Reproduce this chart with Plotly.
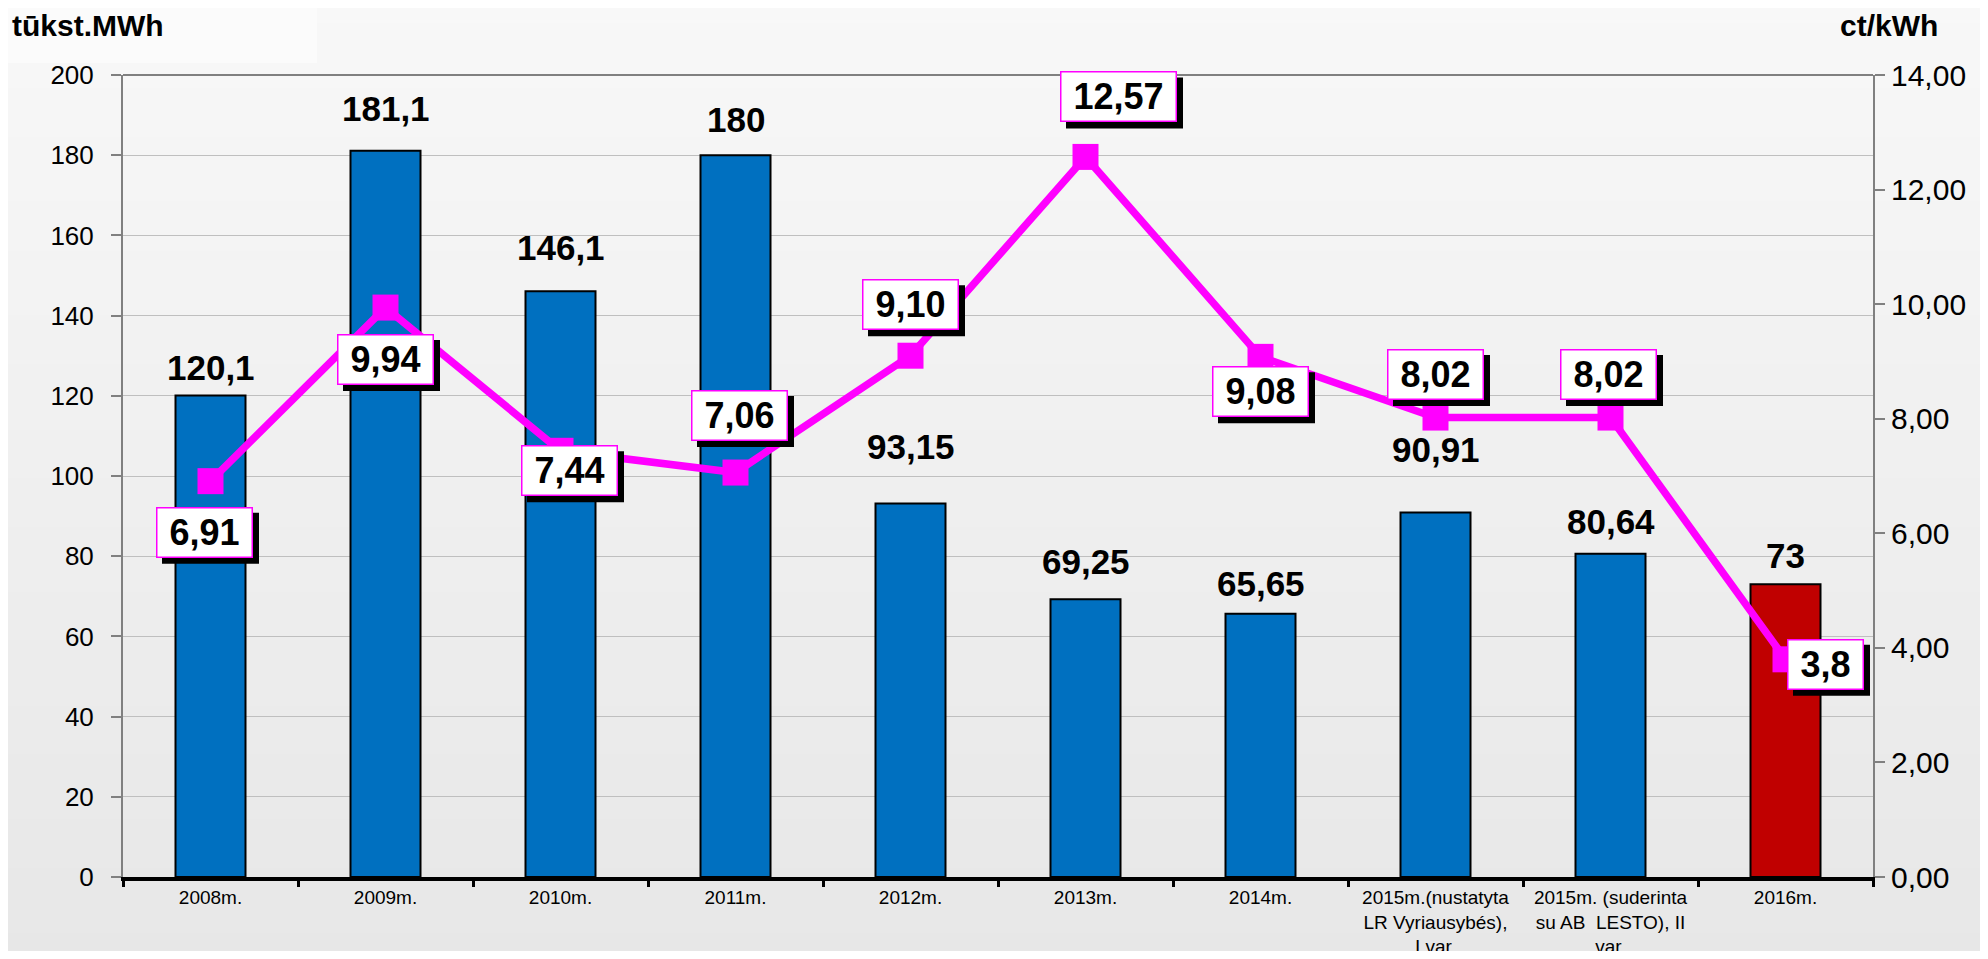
import plotly.graph_objects as go

# ---------------- data ----------------
categories = ["2008m.", "2009m.", "2010m.", "2011m.", "2012m.", "2013m.", "2014m.",
              "2015m.(nustatyta<br>LR Vyriausybés),<br>I var.",
              "2015m. (suderinta<br>su AB  LESTO), II<br>var.",
              "2016m."]
energy = [120.1, 181.1, 146.1, 180, 93.15, 69.25, 65.65, 90.91, 80.64, 73]
energy_labels = ["120,1", "181,1", "146,1", "180", "93,15", "69,25", "65,65", "90,91", "80,64", "73"]
price = [6.91, 9.94, 7.44, 7.06, 9.10, 12.57, 9.08, 8.02, 8.02, 3.8]
price_labels = ["6,91", "9,94", "7,44", "7,06", "9,10", "12,57", "9,08", "8,02", "8,02", "3,8"]
left_ticks = [0, 20, 40, 60, 80, 100, 120, 140, 160, 180, 200]
right_ticks = [0, 2, 4, 6, 8, 10, 12, 14]
right_tick_labels = ["0,00", "2,00", "4,00", "6,00", "8,00", "10,00", "12,00", "14,00"]
left_title = "tūkst.MWh"
right_title = "ct/kWh"

# ---------------- style ----------------
FONT = "Arial, Liberation Sans, sans-serif"
bar_colors = ["#0070C0"] * 9 + ["#C00000"]
MAGENTA = "#FF00FF"
OFF = 8                      # default page body margin
W, H = 1988 - 2 * OFF, 959 - 2 * OFF
# target plot area in page pixels: x 123..1873, y 75..877
ML = 123 - OFF
MT = 75 - OFF
MR = W - (1873 - OFF)
MB = H - (877 - OFF)
PW, PH = W - ML - MR, H - MT - MB

# label offsets (pixels) : bar labels above bars, price labels around points
bar_label_shift = [28, 42, 44, 36, 57, 38, 30, 63, 32, 29]
price_label_dx = [-6, 0, 9, 4, 0, 33, 0, 0, -2, 40]
price_label_dy = [51, 52, 20, -57, -51, -60, 35, -43, -43, 5]
SHADOW = 6
BOX_H = 44
BOX_PAD = 2
BOX_BW = 1.5

fig = go.Figure()

fig.add_trace(go.Bar(
    x=categories, y=energy, yaxis="y",
    marker=dict(color=bar_colors, line=dict(color="black", width=2)),
    width=0.4, hoverinfo="skip", showlegend=False,
))
fig.add_trace(go.Scatter(
    x=categories, y=price, yaxis="y2", mode="lines+markers",
    line=dict(color=MAGENTA, width=7.5),
    marker=dict(symbol="square", size=26, color=MAGENTA),
    hoverinfo="skip", showlegend=False,
))

# background gradient (paper), drawn as stripes
shapes = []
N = 60
x0p = -ML / PW - 0.02
x1p = 1 + MR / PW + 0.02
ybot = -MB / PH - 0.02
ytop = 1 + MT / PH + 0.02
for i in range(N):
    t = i / (N - 1)
    c0 = (248, 248, 248)
    c1 = (231, 231, 231)
    c = tuple(int(round(a + (b - a) * t)) for a, b in zip(c0, c1))
    ya = ytop - (ytop - ybot) * i / N
    yb = ytop - (ytop - ybot) * (i + 1) / N
    shapes.append(dict(type="rect", xref="paper", yref="paper", x0=x0p, x1=x1p,
                       y0=yb - 0.002, y1=ya + 0.002, fillcolor="rgb(%d,%d,%d)" % c,
                       line=dict(width=0), layer="below"))


def px_to_paper(px, py):
    """page pixel -> paper coords"""
    fx, fy = px - OFF, py - OFF
    return (fx - ML) / PW, (H - MB - fy) / PH


# lighter box behind left title
bx0, by0 = px_to_paper(0, 63)
bx1, by1 = px_to_paper(317, -10)
shapes.append(dict(type="rect", xref="paper", yref="paper",
                   x0=bx0 - 0.02, x1=bx1, y0=by0, y1=by1,
                   fillcolor="#fbfbfb", line=dict(width=0), layer="below"))
# top border of plot area
shapes.append(dict(type="line", xref="paper", yref="paper", x0=0, x1=1, y0=1, y1=1,
                   line=dict(color="#808080", width=2), layer="above"))

annotations = []
# bar value labels
for c, v, lab, s in zip(categories, energy, energy_labels, bar_label_shift):
    annotations.append(dict(x=c, y=v, xref="x", yref="y", text=lab, showarrow=False,
                            yanchor="middle", xanchor="center", yshift=s,
                            font=dict(family=FONT, size=35, color="black", weight="bold")))


# price labels with shadow boxes
def text_w(s, size):
    w = 0
    for ch in s:
        w += 0.278 if ch in ",." else 0.556
    return w * size


for c, v, lab, dx, dy in zip(categories, price, price_labels, price_label_dx, price_label_dy):
    bw = round(text_w(lab, 36) + 20)
    ow = bw + 2 * (BOX_PAD + BOX_BW)
    oh = BOX_H + 2 * (BOX_PAD + BOX_BW)
    cx = dx + SHADOW
    cy = -dy - SHADOW
    shapes.append(dict(type="rect", xref="x", yref="y2",
                       xsizemode="pixel", ysizemode="pixel", xanchor=c, yanchor=v,
                       x0=cx - ow / 2, x1=cx + ow / 2, y0=cy - oh / 2, y1=cy + oh / 2,
                       fillcolor="black", line=dict(width=0), layer="above"))
    annotations.append(dict(
        x=c, y=v, xref="x", yref="y2", text=lab, showarrow=False,
        xanchor="center", yanchor="middle", xshift=dx, yshift=-dy,
        width=bw, height=BOX_H, borderpad=BOX_PAD, borderwidth=BOX_BW,
        bgcolor="white", bordercolor=MAGENTA,
        font=dict(family=FONT, size=36, color="black", weight="bold"),
    ))

# axis titles
lx, ly = px_to_paper(10, 26)
rx, ry = px_to_paper(1940, 26)
annotations.append(dict(x=lx, y=ly, xref="paper", yref="paper", text=left_title,
                        showarrow=False, xanchor="left", yanchor="middle",
                        font=dict(family=FONT, size=30, color="black", weight="bold")))
annotations.append(dict(x=rx, y=ry, xref="paper", yref="paper", text=right_title,
                        showarrow=False, xanchor="right", yanchor="middle",
                        font=dict(family=FONT, size=30, color="black", weight="bold")))

fig.update_layout(
    width=W, height=H,
    margin=dict(l=ML, r=MR, t=MT, b=MB, pad=0, autoexpand=False),
    paper_bgcolor="#eeeeee", plot_bgcolor="white",
    font=dict(family=FONT, color="black"),
    bargap=0.6,
    shapes=shapes, annotations=annotations,
    xaxis=dict(
        type="category", showgrid=False, zeroline=False, automargin=False,
        showline=True, linecolor="black", linewidth=4,
        ticks="outside", tickson="boundaries", ticklen=6, tickwidth=3, tickcolor="black",
        tickfont=dict(family=FONT, size=19, color="black"),
        range=[-0.5, 9.5],
    ),
    yaxis=dict(
        range=[0, 200], tickvals=left_ticks, showgrid=True, gridcolor="#bfbfbf", gridwidth=1,
        zeroline=False, showline=True, linecolor="#808080", linewidth=2, automargin=False,
        ticks="outside", ticklen=10, tickcolor="#808080", tickwidth=2,
        ticklabelstandoff=12,
        tickfont=dict(family=FONT, size=26, color="black"),
    ),
    yaxis2=dict(
        range=[0, 14], overlaying="y", side="right", tickvals=right_ticks,
        ticktext=right_tick_labels, showgrid=False, zeroline=False, automargin=False,
        showline=True, linecolor="#808080", linewidth=2,
        ticks="outside", ticklen=10, tickcolor="#808080", tickwidth=2,
        ticklabelstandoff=0,
        tickfont=dict(family=FONT, size=30, color="black"),
    ),
)

fig.write_html("out.html")
